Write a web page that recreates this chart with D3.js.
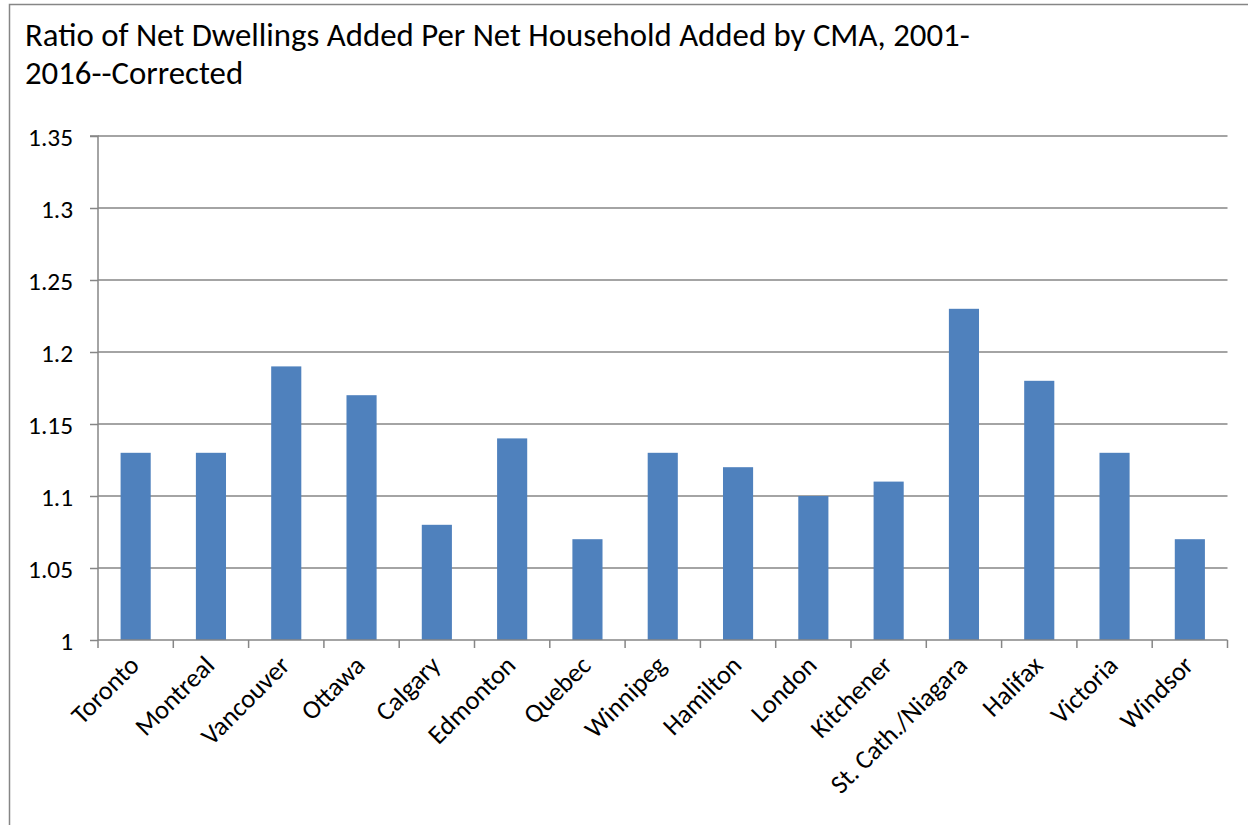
<!DOCTYPE html>
<html>
<head>
<meta charset="utf-8">
<script src="https://cdn.jsdelivr.net/npm/d3@7"></script>
<style>
  html, body { margin: 0; padding: 0; background: #fff; }
  svg { display: block; }
  text { font-family: Carlito, Calibri, "Open Sans", sans-serif; fill: #000; }
</style>
</head>
<body>
<svg id="chart" width="1248" height="825"></svg>
<script>
const categories = ["Toronto", "Montreal", "Vancouver", "Ottawa", "Calgary", "Edmonton", "Quebec",
  "Winnipeg", "Hamilton", "London", "Kitchener", "St. Cath./Niagara", "Halifax", "Victoria", "Windsor"];
const ratios = [1.13, 1.13, 1.19, 1.17, 1.08, 1.14, 1.07, 1.13, 1.12, 1.10, 1.11, 1.23, 1.18, 1.13, 1.07];
const yTicks = [1, 1.05, 1.1, 1.15, 1.2, 1.25, 1.3, 1.35];
const yTickLabels = ["1", "1.05", "1.1", "1.15", "1.2", "1.25", "1.3", "1.35"];
const titleLines = ["Ratio of Net Dwellings Added Per Net Household Added by CMA, 2001-", "2016--Corrected"];

const svg = d3.select("#chart");
const W = 1248, H = 825;
const plot = { left: 98, right: 1227.5, top: 136, bottom: 640 };
const gridColor = "#868686";

// fit font size so that a text's width matches a target width
function fitSize(sel, base, target) {
  sel.style("font-size", base + "px");
  const w = sel.node().getComputedTextLength();
  return base * target / w;
}

// outer chart border (cropped at right/bottom)
svg.append("rect").attr("x", 9.5).attr("y", 4.5).attr("width", W + 10).attr("height", H + 10)
  .attr("fill", "none").attr("stroke", "#868686").attr("stroke-width", 1.5);

// title
const title = svg.append("text").attr("x", 25).attr("y", 46);
title.selectAll("tspan").data(titleLines).join("tspan")
  .attr("x", 25).attr("dy", (d, i) => i === 0 ? 0 : 38).text(d => d);
const probe = svg.append("text").text(titleLines[0]);
title.style("font-size", fitSize(probe, 28, 945) + "px");
probe.remove();

const x = d3.scaleBand().domain(categories).range([plot.left, plot.right]).paddingInner(0.6).paddingOuter(0.3);
const y = d3.scaleLinear().domain([1, 1.35]).range([plot.bottom, plot.top]);

// gridlines
svg.append("g").selectAll("line").data(yTicks.slice(1)).join("line")
  .attr("x1", plot.left).attr("x2", plot.right)
  .attr("y1", d => y(d)).attr("y2", d => y(d))
  .attr("stroke", gridColor).attr("stroke-width", 1.5);

// y axis
const yProbe = svg.append("text").text(yTickLabels[7]);
const ySize = fitSize(yProbe, 20, 45);
yProbe.remove();
const yAxis = d3.axisLeft(y).tickValues(yTicks).tickSize(8).tickPadding(17)
  .tickFormat((d, i) => yTickLabels[i]);
const gy = svg.append("g").attr("transform", `translate(${plot.left},0)`).call(yAxis);
gy.select(".domain").attr("stroke", gridColor).attr("stroke-width", 1.5).attr("d", `M-8,${plot.top}H0V${plot.bottom}`);
gy.selectAll(".tick line").attr("stroke", gridColor).attr("stroke-width", 1.5);
gy.selectAll(".tick text").style("font-size", ySize + "px")
  .style("font-family", "Carlito, Calibri, 'Open Sans', sans-serif").attr("fill", "#000").attr("dy", "0.36em");

// bars
svg.append("g").selectAll("rect").data(categories).join("rect")
  .attr("x", d => x(d)).attr("width", x.bandwidth())
  .attr("y", (d, i) => y(ratios[i])).attr("height", (d, i) => y(1) - y(ratios[i]))
  .attr("fill", "#4F81BD");

// x axis line and ticks at category boundaries
const step = x.step();
const boundaries = d3.range(categories.length + 1).map(i => plot.left + i * step);
svg.append("line").attr("x1", plot.left).attr("x2", plot.right).attr("y1", plot.bottom).attr("y2", plot.bottom)
  .attr("stroke", gridColor).attr("stroke-width", 1.5);
svg.append("g").selectAll("line").data(boundaries).join("line")
  .attr("x1", d => d).attr("x2", d => d).attr("y1", plot.bottom).attr("y2", plot.bottom + 8)
  .attr("stroke", gridColor).attr("stroke-width", 1.5);

// category labels rotated -45
const xProbe = svg.append("text").text(categories[11]);
const xSize = fitSize(xProbe, 20, 181);
xProbe.remove();
svg.append("g").selectAll("text").data(categories).join("text")
  .attr("text-anchor", "end")
  .attr("transform", d => `translate(${x(d) + x.bandwidth() / 2 + 5},${plot.bottom + 27}) rotate(-45)`)
  .style("font-size", xSize + "px")
  .text(d => d);
</script>
</body>
</html>
